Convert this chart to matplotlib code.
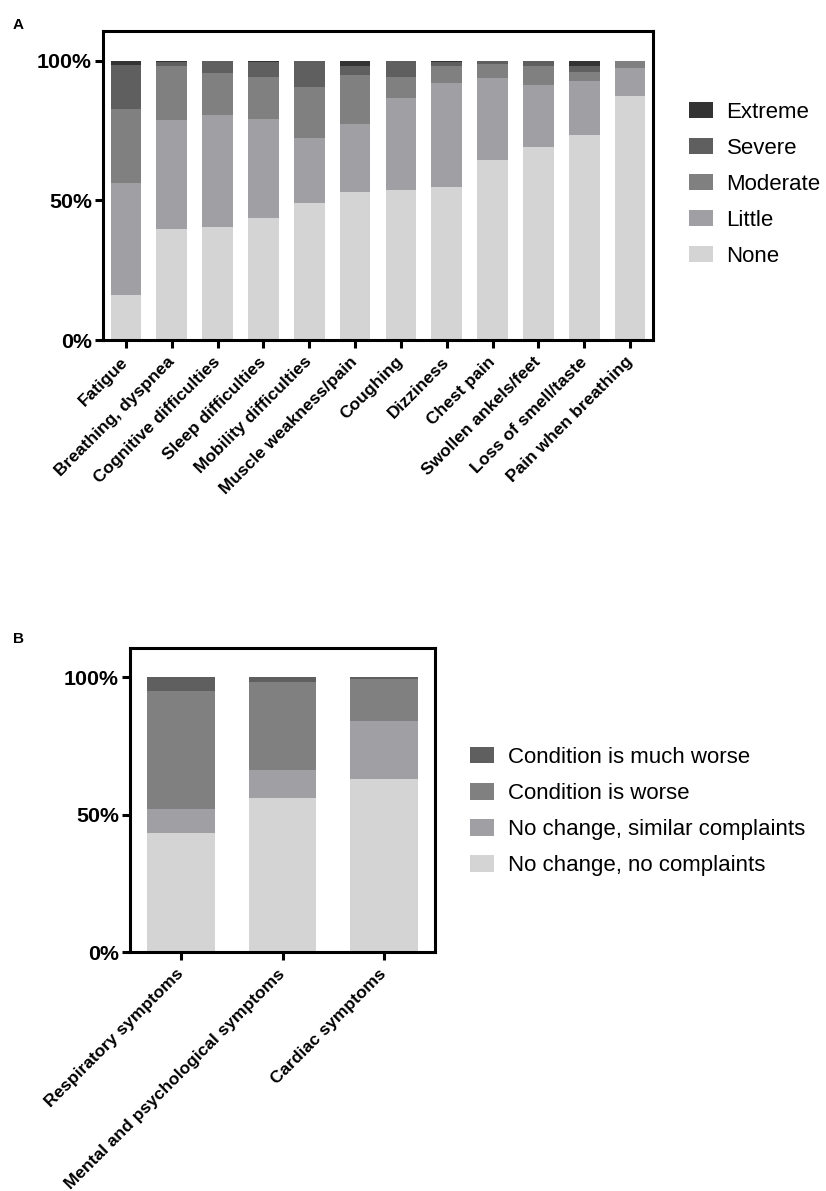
import matplotlib
matplotlib.use("Agg")
import matplotlib.pyplot as plt
from matplotlib.patches import Patch
import numpy as np

plt.rcParams['font.family'] = ['Liberation Sans', 'DejaVu Sans']

# ---------------- Data: panel A ----------------
symptoms_a = ["Fatigue", "Breathing, dyspnea", "Cognitive difficulties",
              "Sleep difficulties", "Mobility difficulties", "Muscle weakness/pain",
              "Coughing", "Dizziness", "Chest pain", "Swollen ankels/feet",
              "Loss of smell/taste", "Pain when breathing"]
none_a     = [16.0, 39.7, 40.5, 43.6, 49.1, 53.0, 53.8, 54.8, 64.4, 69.3, 73.4, 87.5]
little_a   = [40.4, 39.2, 40.0, 35.7, 23.4, 24.4, 32.9, 37.3, 29.6, 22.1, 19.4, 10.0]
moderate_a = [26.4, 19.3, 15.1, 15.0, 18.2, 17.5, 7.6, 6.1, 4.9, 6.8, 3.4, 2.5]
severe_a   = [15.8, 1.3, 4.4, 5.3, 9.3, 3.3, 5.7, 1.4, 1.1, 1.8, 2.0, 0.0]
extreme_a  = [1.4, 0.5, 0.0, 0.4, 0.0, 1.8, 0.0, 0.4, 0.0, 0.0, 1.8, 0.0]
levels_a = ["None", "Little", "Moderate", "Severe", "Extreme"]

# ---------------- Data: panel B ----------------
groups_b = ["Respiratory symptoms", "Mental and psychological symptoms", "Cardiac symptoms"]
no_complaints_b = [43.3, 56.0, 62.9]
similar_b       = [8.8, 10.2, 21.2]
worse_b         = [43.0, 31.9, 15.2]
much_worse_b    = [4.9, 1.9, 0.7]
levels_b = ["No change, no complaints", "No change, similar complaints",
            "Condition is worse", "Condition is much worse"]
yticks = [0, 50, 100]
ytick_labels = ["0%", "50%", "100%"]

col_none = "#d4d4d4"
col_little = "#a0a0a4"
col_mod = "#808080"
col_sev = "#5f5f5f"
col_ext = "#333333"

W, H = 826, 1191
fig = plt.figure(figsize=(W / 100, H / 100), dpi=100)


def ax_rect(l, r, t, b):
    return [l / W, 1 - b / H, (r - l) / W, (b - t) / H]


def style_axes(ax, n):
    ax.set_xlim(-0.5, n - 0.5)
    ax.set_ylim(0, 110.75)
    for s in ax.spines.values():
        s.set_linewidth(2.2)
        s.set_color("black")
    ax.set_yticks(yticks)
    ax.set_yticklabels(ytick_labels, fontsize=15.4, fontweight="bold")
    ax.tick_params(axis="both", length=6, width=2.2, color="black")
    ax.tick_params(axis="y", pad=2)


# ---------------- Panel A ----------------
axA = fig.add_axes(ax_rect(103, 653, 31, 340))
x = np.arange(len(symptoms_a))
series_a = [none_a, little_a, moderate_a, severe_a, extreme_a]
colors_a = [col_none, col_little, col_mod, col_sev, col_ext]
bottom = np.zeros(len(x))
for vals, c in zip(series_a, colors_a):
    axA.bar(x, vals, width=0.67, bottom=bottom, color=c, edgecolor="none")
    bottom += np.array(vals)
style_axes(axA, len(x))
axA.set_xticks(x)
axA.set_xticklabels(symptoms_a, rotation=45, ha="right", va="center",
                    rotation_mode="anchor", fontsize=12.5, fontweight="bold")
axA.tick_params(axis="x", pad=8)

handles_a = [Patch(facecolor=c, edgecolor="none", label=l)
             for l, c in zip(levels_a, colors_a)][::-1]
fig.legend(handles=handles_a, loc="upper left",
           bbox_to_anchor=(689 / W, 1 - 101.5 / H), frameon=False,
           fontsize=16, handlelength=1.07, handleheight=0.75,
           handletextpad=0.62, labelspacing=0.68, borderpad=0, borderaxespad=0)

fig.text(13 / W, 1 - 29 / H, "A", fontsize=11, fontweight="bold")

# ---------------- Panel B ----------------
axB = fig.add_axes(ax_rect(130, 435, 647.7, 952))
xb = np.arange(len(groups_b))
series_b = [no_complaints_b, similar_b, worse_b, much_worse_b]
colors_b = [col_none, col_little, col_mod, col_sev]
bottom = np.zeros(len(xb))
for vals, c in zip(series_b, colors_b):
    axB.bar(xb, vals, width=0.667, bottom=bottom, color=c, edgecolor="none")
    bottom += np.array(vals)
style_axes(axB, len(xb))
axB.set_xticks(xb)
axB.set_xticklabels(groups_b, rotation=45, ha="right", va="center",
                    rotation_mode="anchor", fontsize=12.5, fontweight="bold")
axB.tick_params(axis="x", pad=8)

handles_b = [Patch(facecolor=c, edgecolor="none", label=l)
             for l, c in zip(levels_b, colors_b)][::-1]
fig.legend(handles=handles_b, loc="upper left",
           bbox_to_anchor=(470 / W, 1 - 747 / H), frameon=False,
           fontsize=16, handlelength=1.07, handleheight=0.75,
           handletextpad=0.62, labelspacing=0.68, borderpad=0, borderaxespad=0)

fig.text(13 / W, 1 - 643 / H, "B", fontsize=11, fontweight="bold")

fig.savefig("out.png", dpi=100)
